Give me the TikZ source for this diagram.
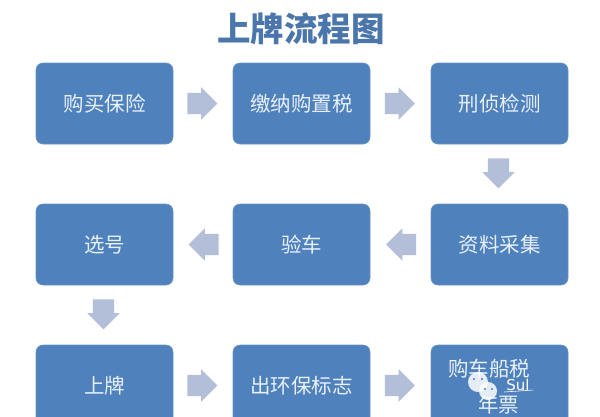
\documentclass[tikz,border=0pt]{standalone}
\usepackage{fontspec}
\newfontfamily\cjk{Noto Sans CJK SC}
\newfontfamily\cjkb{Noto Sans CJK SC Black}
\setmainfont{DejaVu Sans}
\usetikzlibrary{shapes.arrows,calc}
\definecolor{boxblue}{HTML}{4F81BD}
\definecolor{arrowblue}{HTML}{B3BFD9}
\definecolor{titleblue}{HTML}{4A76AC}
\definecolor{boxtext}{HTML}{E8F0F8}
\tikzset{
  x=1pt,y=-1pt,
  stage/.style={draw=boxblue!85!white,line width=.6pt,fill=boxblue,rounded corners=7pt,minimum width=137pt,minimum height=81pt,inner sep=0pt,text=boxtext,font=\cjk\fontsize{20.5}{24}\selectfont,align=center},
  flowarrow/.style={single arrow,fill=arrowblue,draw=none,minimum height=30pt,minimum width=32pt,single arrow head extend=5.5pt,single arrow head indent=0pt,inner xsep=0pt,inner ysep=10.5pt},
  bubble/.style={circle,fill=white,opacity=.85,draw=none,inner sep=0pt}
}
\begin{document}
\begin{tikzpicture}
\useasboundingbox (0,0) rectangle (600,416);
\clip (0,0) rectangle (600,416);
\fill[white] (0,0) rectangle (600,416);
\node[text=titleblue,font=\cjkb\fontsize{33.5}{36}\selectfont] (title) at (301,29) {上牌流程图};
\node[stage] (a1) at (104.5,103.5) {购买保险};
\node[stage] (a2) at (301.5,103.5) {缴纳购置税};
\node[stage] (a3) at (499.5,103.5) {刑侦检测};
\node[stage] (b3) at (499.5,244.5) {资料采集};
\node[stage] (b2) at (301.5,244.5) {验车};
\node[stage] (b1) at (104.5,244.5) {选号};
\node[stage] (c1) at (104.5,385.5) {上牌};
\node[stage] (c2) at (301.5,385.5) {出环保标志};
\node[stage] (c3) at (499.5,385.5) {};
\node[text=boxtext,font=\cjk\fontsize{20.5}{24}\selectfont] (c3a) at (489,368.5) {购车船税};
\node[text=boxtext,font=\cjk\fontsize{20.5}{24}\selectfont] (c3b) at (498.5,405) {年票};
\node[flowarrow] (f1) at ($(a1)!.5!(a2)+(-6,0)$) {};
\node[flowarrow] (f2) at ($(a2)!.5!(a3)+(-6,0)$) {};
\node[flowarrow,rotate=-90] (f3) at ($(a3)!.5!(b3)+(-1,-6)$) {};
\node[flowarrow,rotate=180] (f4) at ($(b3)!.5!(b2)+(6,0)$) {};
\node[flowarrow,rotate=180] (f5) at ($(b2)!.5!(b1)+(6,0)$) {};
\node[flowarrow,rotate=-90] (f6) at ($(b1)!.5!(c1)+(-1,-6)$) {};
\node[flowarrow] (f7) at ($(c1)!.5!(c2)+(-6,0)$) {};
\node[flowarrow] (f8) at ($(c2)!.5!(c3)+(-6,0)$) {};
% watermark
\node[bubble,minimum width=20pt] (w1) at (478,382) {};
\node[bubble,minimum width=18pt] (w2) at (488,391) {};
\foreach \p in {(474,379),(482,379),(485,389),(492,389)}{\fill[boxblue] \p circle (1.2);}
\node[text=white,font=\fontsize{15}{15}\selectfont,inner sep=0pt] (w3) at (518,385) {Sul};
\draw[white,line width=.6pt] (w3.south west) ++(-2,1) -- ++(29,-2);
\end{tikzpicture}
\end{document}
